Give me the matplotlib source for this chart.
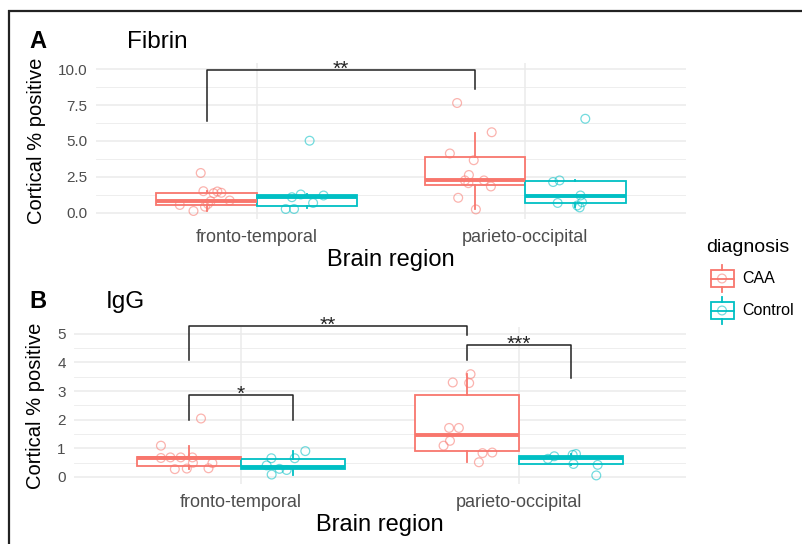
import matplotlib.pyplot as plt
from matplotlib.patches import Rectangle

plt.rcParams['font.family'] = ['Liberation Sans', 'DejaVu Sans']

regions = ['fronto-temporal', 'parieto-occipital']
groups = ['CAA', 'Control']
caa_color = '#F8766D'
ctrl_color = '#00BFC4'

# Fibrin: box stats (low whisker, q1, median, q3, high whisker)
fibrin_caa_ft_box = [0.14, 0.54, 0.85, 1.39, 1.50]
fibrin_ctrl_ft_box = [0.30, 0.49, 1.08, 1.20, 1.27]
fibrin_caa_po_box = [0.23, 1.95, 2.25, 3.90, 5.58]
fibrin_ctrl_po_box = [0.37, 0.68, 1.15, 2.20, 2.25]

# Fibrin: individual points and their jitter
fibrin_caa_ft = [2.77, 1.50, 1.36, 1.48, 1.39, 0.85, 0.54, 0.12, 0.42, 0.61, 0.80]
fibrin_caa_ft_jit = [-0.022, -0.012, 0.026, 0.040, 0.055, 0.086, -0.100, -0.049, -0.006, 0.005, 0.015]
fibrin_ctrl_ft = [1.08, 1.27, 1.20, 0.68, 0.26, 0.26, 5.02]
fibrin_ctrl_ft_jit = [-0.057, -0.024, 0.061, 0.022, -0.080, -0.049, 0.009]
fibrin_caa_po = [7.65, 5.61, 4.13, 3.66, 2.63, 2.25, 2.06, 2.25, 1.83, 1.04, 0.23]
fibrin_caa_po_jit = [-0.066, 0.063, -0.093, -0.004, -0.022, -0.037, -0.024, 0.034, 0.060, -0.062, 0.004]
fibrin_ctrl_po = [6.55, 2.14, 2.25, 1.20, 0.68, 0.73, 0.37, 0.50]
fibrin_ctrl_po_jit = [0.037, -0.083, -0.059, 0.019, -0.066, 0.025, 0.016, 0.007]

# IgG
igg_caa_ft_box = [0.27, 0.38, 0.66, 0.70, 1.09]
igg_ctrl_ft_box = [0.08, 0.28, 0.36, 0.63, 0.90]
igg_caa_po_box = [0.51, 0.92, 1.48, 2.87, 3.59]
igg_ctrl_po_box = [0.42, 0.45, 0.66, 0.73, 0.80]

igg_caa_ft = [2.04, 1.09, 0.66, 0.68, 0.68, 0.68, 0.49, 0.48, 0.27, 0.29, 0.30]
igg_caa_ft_jit = [0.044, -0.100, -0.100, -0.066, -0.029, 0.013, 0.015, 0.085, -0.050, -0.007, 0.071]
igg_ctrl_ft = [0.65, 0.65, 0.90, 0.40, 0.28, 0.24, 0.08]
igg_ctrl_ft_jit = [-0.078, 0.006, 0.044, -0.095, -0.049, -0.023, -0.077]
igg_caa_po = [3.59, 3.30, 3.28, 1.71, 1.71, 1.26, 1.09, 0.83, 0.85, 0.51]
igg_caa_po_jit = [0.013, -0.051, 0.008, -0.064, -0.029, -0.061, -0.084, 0.056, 0.091, 0.043]
igg_ctrl_po = [0.63, 0.72, 0.80, 0.77, 0.45, 0.42, 0.05]
igg_ctrl_po_jit = [-0.084, -0.061, 0.017, 0.005, 0.008, 0.095, 0.090]

# significance brackets: label, (region, group) left, (region, group) right, top, left end, right end
fibrin_sig = [('**', (0, 0), (1, 0), 9.93, 6.41, 8.66)]
igg_sig = [('**', (0, 0), (1, 0), 5.28, 4.09, 4.97),
           ('*', (0, 0), (0, 1), 2.87, 1.99, 1.99),
           ('***', (1, 0), (1, 1), 4.60, 4.09, 3.45)]

dodge = 0.1875
box_w = 0.375
grid_c = '#EBEBEB'


def xpos(region, group):
    return region + 1 + (dodge if group == 1 else -dodge)


def draw_panel(ax, boxes, points, sig, ylim, yticks, yminor, ylabels):
    ax.set_xlim(0.4, 2.6)
    ax.set_ylim(*ylim)
    for s in ax.spines.values():
        s.set_visible(False)
    ax.set_yticks(yticks)
    ax.set_yticklabels(ylabels)
    ax.set_yticks(yminor, minor=True)
    ax.set_xticks([1, 2])
    ax.set_xticklabels(regions)
    ax.grid(True, which='major', color=grid_c, lw=1.1)
    ax.grid(True, which='minor', axis='y', color=grid_c, lw=0.6)
    ax.set_axisbelow(True)
    ax.tick_params(axis='both', which='both', length=0, colors='#4D4D4D')
    ax.tick_params(axis='y', labelsize=11, pad=6)
    ax.tick_params(axis='x', labelsize=13, pad=7)

    for (r, g), st in boxes.items():
        col = caa_color if g == 0 else ctrl_color
        stats = [dict(whislo=st[0], q1=st[1], med=st[2], q3=st[3], whishi=st[4])]
        ax.bxp(stats, positions=[xpos(r, g)], widths=box_w, showfliers=False,
               showcaps=False, patch_artist=True, manage_ticks=False,
               boxprops=dict(facecolor='white', edgecolor=col, lw=1.3),
               medianprops=dict(color=col, lw=2.8),
               whiskerprops=dict(color=col, lw=1.3), zorder=2)

    for (r, g), (vals, jit) in points.items():
        col = caa_color if g == 0 else ctrl_color
        xs = [xpos(r, g) + j for j in jit]
        ax.scatter(xs, vals, s=40, facecolors='none', edgecolors=col,
                   linewidths=0.9, alpha=0.55, zorder=3)

    for label, left, right, top, ly, ry in sig:
        x1, x2 = xpos(*left), xpos(*right)
        ax.plot([x1, x1, x2, x2], [ly, top, top, ry], color='#222222',
                lw=1.1, zorder=4, clip_on=False)
        ax.annotate(label, xy=((x1 + x2) / 2, top), xytext=(0, -3.5),
                    textcoords='offset points', ha='center', va='baseline',
                    fontsize=15, color='#222222', annotation_clip=False)

    ax.set_xlabel('Brain region', fontsize=17)
    ax.set_ylabel('Cortical % positive', fontsize=14.5)


fig = plt.figure(figsize=(8.02, 5.44), dpi=100)
W, H = 802, 544

axA = fig.add_axes([96 / W, 1 - 219.3 / H, 590 / W, 156.6 / H])
draw_panel(axA,
           {(0, 0): fibrin_caa_ft_box, (0, 1): fibrin_ctrl_ft_box,
            (1, 0): fibrin_caa_po_box, (1, 1): fibrin_ctrl_po_box},
           {(0, 0): (fibrin_caa_ft, fibrin_caa_ft_jit), (0, 1): (fibrin_ctrl_ft, fibrin_ctrl_ft_jit),
            (1, 0): (fibrin_caa_po, fibrin_caa_po_jit), (1, 1): (fibrin_ctrl_po, fibrin_ctrl_po_jit)},
           fibrin_sig, (-0.46, 10.46), [0, 2.5, 5, 7.5, 10], [1.25, 3.75, 6.25, 8.75],
           ['0.0', '2.5', '5.0', '7.5', '10.0'])
axA.xaxis.set_label_coords(0.5, -0.26)
axA.yaxis.set_label_coords(-0.1005, 0.5)

axB = fig.add_axes([74 / W, 1 - 484 / H, 612 / W, 157.3 / H])
draw_panel(axB,
           {(0, 0): igg_caa_ft_box, (0, 1): igg_ctrl_ft_box,
            (1, 0): igg_caa_po_box, (1, 1): igg_ctrl_po_box},
           {(0, 0): (igg_caa_ft, igg_caa_ft_jit), (0, 1): (igg_ctrl_ft, igg_ctrl_ft_jit),
            (1, 0): (igg_caa_po, igg_caa_po_jit), (1, 1): (igg_ctrl_po, igg_ctrl_po_jit)},
           igg_sig, (-0.25, 5.25), [0, 1, 2, 3, 4, 5], [0.5, 1.5, 2.5, 3.5, 4.5],
           ['0', '1', '2', '3', '4', '5'])
axB.xaxis.set_label_coords(0.5, -0.26)
axB.yaxis.set_label_coords(-0.0637, 0.5)
for a in (axA, axB):
    a.xaxis.label.set_va('center')
    a.yaxis.label.set_va('center')

# overlay in pixel coordinates for panel letters, titles, border and legend
ov = fig.add_axes([0, 0, 1, 1], zorder=5)
ov.set_xlim(0, W)
ov.set_ylim(H, 0)
ov.axis('off')
ov.patch.set_alpha(0)

ov.plot([8, W], [10.5, 10.5], color='#222222', lw=1.6, solid_capstyle='butt')
ov.plot([8.5, 8.5], [10, H], color='#222222', lw=1.6, solid_capstyle='butt')

ov.text(29, 42, 'A', fontsize=17, fontweight='bold', va='center', ha='left')
ov.text(127, 42, 'Fibrin', fontsize=17.5, va='center', ha='left')
ov.text(29, 302, 'B', fontsize=17, fontweight='bold', va='center', ha='left')
ov.text(106, 302, 'IgG', fontsize=17.5, va='center', ha='left')

ov.text(706, 247, 'diagnosis', fontsize=14, va='center', ha='left')
for yc, col, lab in [(278.5, caa_color, groups[0]), (310.5, ctrl_color, groups[1])]:
    ov.add_patch(Rectangle((710.5, yc - 8.5), 23, 17, fill=False, edgecolor=col, lw=1.3))
    ov.plot([722, 722], [yc - 13.5, yc - 8.5], color=col, lw=1.3)
    ov.plot([722, 722], [yc + 8.5, yc + 13.5], color=col, lw=1.3)
    ov.plot([710.5, 733.5], [yc, yc], color=col, lw=1.3)
    ov.scatter([722], [yc], s=40, facecolors='none', edgecolors=col,
               linewidths=0.9, alpha=0.55)
    ov.text(742, yc, lab, fontsize=11.5, va='center', ha='left')

fig.savefig('out.png', dpi=100)
